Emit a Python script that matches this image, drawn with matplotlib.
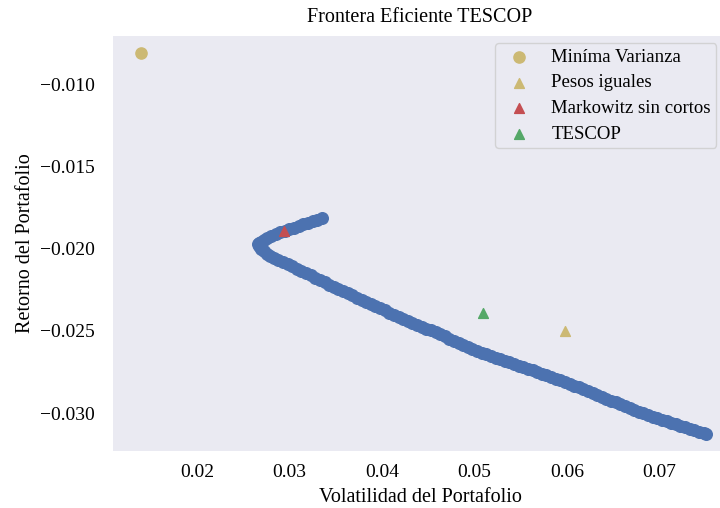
import matplotlib
matplotlib.use("Agg")
import matplotlib.pyplot as plt

plt.rcParams['font.family'] = ['Liberation Serif', 'DejaVu Serif']

# frontera eficiente: rama superior (desde el extremo hasta la punta)
vol_sup = [0.03353, 0.0330, 0.0325, 0.0320, 0.0315, 0.0310, 0.0305, 0.0300, 0.0295,
           0.0290, 0.0285, 0.0280, 0.0276, 0.0272, 0.0269, 0.0267, 0.0266]
ret_sup = [-0.01815, -0.01825, -0.01834, -0.01844, -0.01853, -0.01862, -0.01872, -0.01881,
           -0.01890, -0.01900, -0.01911, -0.01924, -0.01935, -0.01949, -0.01960, -0.01967,
           -0.01973]

# rama inferior (desde la punta hasta el extremo derecho)
vol_inf = [0.02671, 0.02693, 0.02725, 0.02758, 0.02790,
           0.0283, 0.0288, 0.0293, 0.0298, 0.0303, 0.0308, 0.0313, 0.0318, 0.0323, 0.0328,
           0.0333, 0.0338, 0.0343, 0.0348, 0.0353, 0.0358, 0.0363, 0.0368, 0.0373, 0.0378,
           0.0383, 0.0388, 0.0393, 0.0398, 0.0403, 0.0408, 0.0413, 0.0418, 0.0423, 0.0428,
           0.0433, 0.0438, 0.0443, 0.0448, 0.0453, 0.0458, 0.0463, 0.0468, 0.0473, 0.0478,
           0.0483, 0.0488, 0.0493, 0.0498, 0.0503, 0.0508, 0.0513, 0.0518, 0.0523, 0.0528,
           0.0533, 0.0538, 0.0543, 0.0548, 0.0553, 0.0558, 0.0563, 0.0568, 0.0573, 0.0578,
           0.0583, 0.0588, 0.0593, 0.0598, 0.0603, 0.0608, 0.0613, 0.0618, 0.0623, 0.0628,
           0.0633, 0.0638, 0.0643, 0.0648, 0.0653, 0.0658, 0.0663, 0.0668, 0.0673, 0.0678,
           0.0683, 0.0688, 0.0693, 0.0698, 0.0703, 0.0708, 0.0713, 0.0718, 0.0723, 0.0728,
           0.0733, 0.0738, 0.0743, 0.0748, 0.0751]
ret_inf = [-0.01985, -0.02000, -0.02015, -0.02030, -0.02046,
           -0.02056, -0.02069, -0.02082, -0.02095, -0.02108, -0.02122, -0.02135, -0.02149,
           -0.02163, -0.02177, -0.02191, -0.02205, -0.02219, -0.02233, -0.02246, -0.02259,
           -0.02272, -0.02285, -0.02298, -0.02311, -0.02324, -0.02337, -0.02350, -0.02363,
           -0.02376, -0.02389, -0.02402, -0.02414, -0.02426, -0.02438, -0.02450, -0.02462,
           -0.02474, -0.02486, -0.02497, -0.02509, -0.02522, -0.02534, -0.02547, -0.02559,
           -0.02571, -0.02584, -0.02596, -0.02608, -0.02621, -0.02632, -0.02642, -0.02652,
           -0.02662, -0.02671, -0.02681, -0.02691, -0.02701, -0.02711, -0.02720, -0.02730,
           -0.02740, -0.02750, -0.02760, -0.02770, -0.02780, -0.02790, -0.02799, -0.02810,
           -0.02822, -0.02833, -0.02844, -0.02856, -0.02867, -0.02878, -0.02890, -0.02901,
           -0.02912, -0.02924, -0.02935, -0.02946, -0.02957, -0.02968, -0.02979, -0.02991,
           -0.03002, -0.03013, -0.03023, -0.03032, -0.03041, -0.03050, -0.03059, -0.03068,
           -0.03077, -0.03086, -0.03096, -0.03105, -0.03114, -0.03122, -0.03128]

# portafolios (volatilidad, retorno)
min_var = (0.01395, -0.00812)
pesos_iguales = (0.0598, -0.0250)
markowitz = (0.0294, -0.0189)
tescop = (0.0509, -0.0239)

fig = plt.figure(figsize=(7.2, 5.08), dpi=100)
ax = fig.add_axes([0.157, 0.112, 0.853, 0.817])
ax.set_facecolor('#EAEAF2')
for s in ax.spines.values():
    s.set_visible(False)
ax.tick_params(length=0, labelsize=14)
ax.tick_params(axis='y', pad=13)
ax.tick_params(axis='x', pad=9)

ax.scatter(vol_sup + vol_inf, ret_sup + ret_inf, s=70, color='#4C72B0')
ax.scatter(*min_var, marker='o', s=65, color='#CCB974', label='Miníma Varianza')
ax.scatter(*pesos_iguales, marker='^', s=50, color='#CCB974', label='Pesos iguales')
ax.scatter(*markowitz, marker='^', s=50, color='#C44E52', label='Markowitz sin cortos')
ax.scatter(*tescop, marker='^', s=50, color='#55A868', label='TESCOP')

ax.set_xlim(0.01091, 0.07736)
ax.set_ylim(-0.03231, -0.00708)
ax.set_xticks([0.02, 0.03, 0.04, 0.05, 0.06, 0.07])
ax.set_yticks([-0.030, -0.025, -0.020, -0.015, -0.010])
ax.set_yticklabels(['\u22120.030', '\u22120.025', '\u22120.020', '\u22120.015', '\u22120.010'])

ax.set_title('Frontera Eficiente TESCOP', fontsize=14.5, pad=10)
ax.set_xlabel('Volatilidad del Portafolio', fontsize=14.5, labelpad=5)
ax.set_ylabel('Retorno del Portafolio', fontsize=14.5, labelpad=4)
ax.legend(loc='upper left', fontsize=13.5, frameon=True, facecolor='#EAEAF2',
          edgecolor='#CCCCCC', bbox_to_anchor=(0.622, 0.983), borderaxespad=0,
          labelspacing=0.45, handletextpad=0.7, borderpad=0.3)

fig.savefig('out.png', dpi=100)
